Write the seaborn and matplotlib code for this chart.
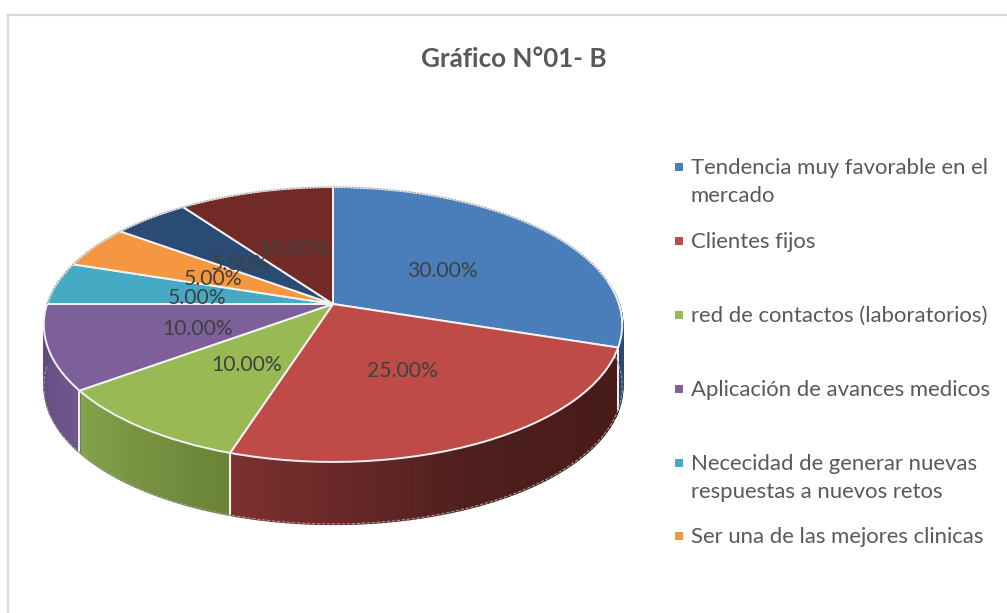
import numpy as np
import matplotlib
matplotlib.use('Agg')
import matplotlib.pyplot as plt
import matplotlib.transforms as mtransforms
from matplotlib.patches import Rectangle
import seaborn as sns

# 1. Data
categories = ['Tendencia muy favorable en el\nmercado', 'Clientes fijos',
              'red de contactos (laboratorios)', 'Aplicación de avances medicos',
              'Nececidad de generar nuevas\nrespuestas a nuevos retos',
              'Ser una de las mejores clinicas']
values = [30, 25, 10, 10, 5, 5, 5, 10]
top_colors = ['#4A7EBB', '#BE4B48', '#98B954', '#7D5F9A', '#46AAC4', '#F59640', '#2A4B73', '#722A27']
# side wall shading, from the clockwise start of each slice to its end
wall_colors = [['#2B4A70', '#2B4A70'], ['#471B19', '#4C1E1C', '#7C3030'], ['#6A8338', '#84A34B'],
               ['#6F5690', '#5F4A7A'], ['#2A6A7A', '#2A6A7A'], ['#9A5A22', '#9A5A22'],
               ['#1A2E47', '#1A2E47'], ['#471A18', '#471A18']]

sns.set_style('white')
plt.rcParams['font.family'] = ['Lato', 'DejaVu Sans']

W, H = 1007, 613
fig = plt.figure(figsize=(W / 100, H / 100), dpi=100)
# axes in pixel units, its left/top spines are the chart frame
ax = fig.add_axes([8 / W, 0, (W - 8) / W, (H - 15) / H])


# perspective of the pie plane: unit circle to picture pixels
class Persp(mtransforms.Transform):
    input_dims = 2
    output_dims = 2
    has_inverse = False

    def transform_non_affine(self, xy):
        xy = np.asarray(xy, dtype=float)
        d = 1 + 0.149 * xy[:, 1]
        return np.column_stack([333 + 286 * xy[:, 0] / d, 304 - 134.4 * xy[:, 1] / d])


persp = Persp()


def rim(theta):
    t = np.radians(theta)
    return persp.transform_non_affine(np.column_stack([np.sin(t), np.cos(t)]))


wedges, _, autotexts = ax.pie(values, startangle=90, counterclock=False, colors=top_colors,
                              autopct='%.2f%%', pctdistance=0.49,
                              wedgeprops={'edgecolor': '#f2f2f2', 'linewidth': 1.4},
                              textprops={'color': '#404040', 'fontsize': 15.2})
for w in wedges:
    w.set_transform(persp + ax.transData)
    w.set_zorder(3)
for t in autotexts:
    t.set_transform(persp + mtransforms.Affine2D().translate(1, 4) + ax.transData)
    t.set_zorder(4)

ax.set_aspect('auto')
ax.set_xlim(8, W)
ax.set_ylim(H, 15)

# 2. Side wall of the front half
depth = 62
edges = np.concatenate([[0], np.cumsum(values)]) * 3.6
for i in range(len(values)):
    a0, a1 = max(edges[i], 80), min(edges[i + 1], 270)
    if a1 <= a0:
        continue
    n = max(int(a1 - a0), 2)
    thetas = np.linspace(a0, a1, n + 1)
    shades = sns.blend_palette(wall_colors[i], n)
    pts = rim(thetas)
    for j in range(n):
        xs = pts[j:j + 2, 0]
        ys = pts[j:j + 2, 1]
        ax.fill_between(xs, ys, ys + depth, facecolor=shades[j], edgecolor=shades[j], lw=1.0, zorder=1)
    if a1 < 270:
        ax.plot([pts[-1, 0]] * 2, [pts[-1, 1], pts[-1, 1] + depth], color='#f2f2f2', lw=1.4, zorder=2)

# outline, thin and broken like in the original
arc = rim(np.linspace(80, 270, 200))
ax.plot(arc[:, 0], arc[:, 1] + depth, color='#9a9a9a', lw=0.8, ls=(0, (3, 1.5)), zorder=2)
back = rim(np.linspace(270, 440, 200))
ax.plot(back[:, 0], back[:, 1], color='#a8a8a8', lw=0.9, ls=(0, (1.5, 1)), zorder=4)

# 3. Title and legend (only the first six entries fit, as in the original)
ax.text(514, 59, 'Gráfico N°01- B', ha='center', va='center', fontsize=18.7,
        fontweight='bold', color='#595959')
legend_y = [182, 242, 316, 390, 478, 537]
for label, color, y in zip(categories, top_colors, legend_y):
    two_lines = '\n' in label
    ax.text(691, y, label, ha='left', va='center', fontsize=15.9, color='#595959', linespacing=1.55)
    my = y - 15 if two_lines else y - 1
    ax.add_patch(Rectangle((675, my - 4), 7.5, 7.5, color=color, lw=0))

ax.set_frame_on(True)
sns.despine(ax=ax, top=False, right=True, bottom=True, left=False)
for side in ['left', 'top']:
    ax.spines[side].set_color('#d9d9d9')
    ax.spines[side].set_linewidth(1.6)

fig.savefig('out.png', dpi=100)
